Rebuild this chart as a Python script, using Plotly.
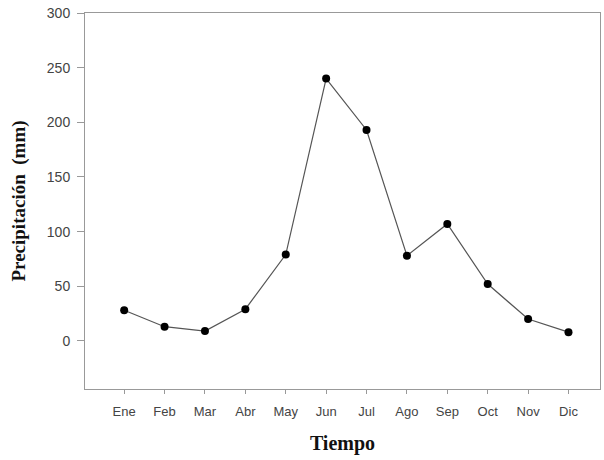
import plotly.graph_objects as go

meses = ["Ene", "Feb", "Mar", "Abr", "May", "Jun", "Jul", "Ago", "Sep", "Oct", "Nov", "Dic"]
precipitacion = [28, 13, 9, 29, 79, 240, 193, 78, 107, 52, 20, 8]
y_ticks = [0, 50, 100, 150, 200, 250, 300]

fig = go.Figure()
fig.add_trace(go.Scatter(
    x=list(range(len(meses))), y=precipitacion,
    mode="lines+markers",
    line=dict(color="#555555", width=1.2),
    marker=dict(color="black", size=8),
    showlegend=False,
))

fig.update_layout(
    width=604, height=460,
    margin=dict(l=85, r=4, t=13, b=71, autoexpand=False),
    paper_bgcolor="white", plot_bgcolor="white",
    font=dict(family="Liberation Sans, Arial", color="#444444", size=13),
)
fig.update_xaxes(
    range=[-0.97, 11.78], automargin=False,
    tickmode="array", tickvals=list(range(len(meses))), ticktext=meses,
    showgrid=False, zeroline=False,
    showline=True, linecolor="#999999", linewidth=1, mirror=True,
    ticks="outside", ticklen=4, tickcolor="#999999",
    ticklabelstandoff=6,
    tickfont=dict(size=13, color="#444444"),
    title=dict(text="<b>Tiempo</b>", font=dict(family="Liberation Serif, Times New Roman", size=20, color="#111111"), standoff=18),
)
fig.update_yaxes(
    range=[-44, 300], automargin=False,
    tickmode="array", tickvals=y_ticks,
    showgrid=False, zeroline=False,
    showline=True, linecolor="#999999", linewidth=1, mirror=True,
    ticks="outside", ticklen=7, tickcolor="#999999",
    ticklabelstandoff=4,
    tickfont=dict(size=14, color="#444444"),
    title=dict(text="<b>Precipitación  (mm)</b>", font=dict(family="Liberation Serif, Times New Roman", size=19, color="#111111"), standoff=16),
)

fig.write_html(
    "out.html",
    config={"displayModeBar": False},
    post_script="document.body.style.margin='0';document.body.style.overflow='hidden';",
)
